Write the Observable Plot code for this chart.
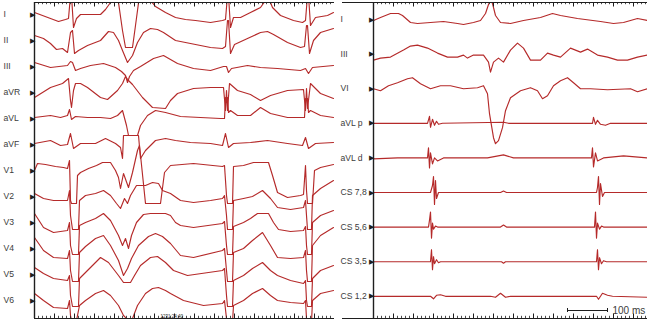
<!DOCTYPE html>
<html><head><meta charset="utf-8">
<script src="https://cdn.jsdelivr.net/npm/d3@7"></script>
<script src="https://cdn.jsdelivr.net/npm/@observablehq/plot@0.6"></script>
<style>
body{margin:0;background:#fff;}
#wrap{position:relative;width:650px;height:323px;overflow:hidden;background:#fff;}
#left{position:absolute;left:0;top:0;}
#right{position:absolute;left:334px;top:0;}
</style></head><body><div id="wrap"><div id="left"></div><div id="right"></div></div>
<script>
// ---------- left panel: surface ECG (time in ms, amplitude in mV) ----------
const leftLeads = ["I","II","III","aVR","aVL","aVF","V1","V2","V3","V4","V5","V6"];
const L_I = [[0,0.2],[80,-0.1],[160,-0.4],[240,-0.7],[310,-0.5],[340,-0.4],[360,1.9],[370,1.9],[390,-1.3],[420,-0.4],[460,0],[560,0],[660,0],[710,0.5],[760,1.2],[790,1.9],[830,1.9],[880,-1.6],[910,-3.3],[980,-3.3],[1010,-1.1],[1050,1.9],[1120,1.9],[1160,1.4],[1210,0.8],[1310,0.2],[1410,-0.3],[1510,-0.5],[1610,-0.6],[1760,-0.8],[1880,-0.6],[1910,-0.5],[1930,1.9],[1940,1.9],[1960,-1.3],[1990,-0.3],[2060,-0.3],[2160,0.2],[2260,0.7],[2310,1.4],[2340,1.7],[2380,0.7],[2460,-0.1],[2590,-0.6],[2680,-0.8],[2710,-0.6],[2730,1.9],[2740,1.9],[2760,-1.1],[2810,-0.3],[2930,-0.1],[2990,0.2]];
const L_II = [[0,0.5],[90,0.2],[160,-0.3],[220,-0.9],[280,-0.8],[330,-1.2],[360,0.8],[380,1.0],[400,-1.3],[440,-1.0],[530,-0.5],[660,0],[740,0.9],[790,0.8],[840,0],[880,-1.0],[930,-2.2],[980,-1.5],[1030,-0.2],[1090,0.8],[1160,1.2],[1230,1.1],[1290,0.8],[1410,0],[1560,-0.3],[1760,-0.7],[1880,-0.8],[1910,-0.6],[1930,2.0],[1940,2.0],[1960,-1.3],[2000,-0.4],[2130,0.2],[2260,0.8],[2330,0.9],[2390,0.6],[2530,-0.2],[2660,-0.7],[2700,-0.6],[2720,1.5],[2730,1.5],[2750,-1.3],[2790,0],[2860,0.8],[2990,1.2]];
const L_III = [[0,0.4],[160,-0.1],[330,0.1],[360,0.5],[380,0.4],[410,-0.4],[460,-0.2],[560,0.1],[690,0.3],[810,-0.1],[870,-0.5],[910,-0.9],[930,-1.6],[950,-1.0],[990,-0.4],[1060,0],[1190,0.8],[1290,1.1],[1430,0.3],[1590,-0.2],[1760,-0.4],[1890,0],[1920,0],[1940,-0.6],[1970,-0.2],[2130,0.1],[2260,-0.1],[2430,-0.2],[2660,-0.4],[2710,-0.2],[2740,-0.7],[2780,-0.1],[2990,0.1]];
const L_aVR = [[0,-0.5],[160,0.5],[280,0.9],[340,1.4],[360,-0.8],[370,-1.5],[390,0.2],[410,0.9],[460,0.9],[530,0.5],[660,-0.5],[730,-0.7],[830,0.2],[880,0.9],[910,1.6],[940,1.2],[980,0.8],[1080,-0.5],[1180,-1.5],[1310,-1.6],[1360,-0.8],[1430,-0.1],[1590,0.4],[1760,0.5],[1890,0.5],[1910,-1.8],[1920,0.2],[1930,-1.8],[1950,0.9],[2030,0.2],[2160,-0.2],[2260,-0.8],[2360,-0.3],[2530,0.2],[2690,0.3],[2710,-1.8],[2720,0.4],[2730,-1.6],[2760,0.9],[2860,-0.1],[2990,-0.6]];
const L_aVL = [[0,0.1],[160,0.3],[260,0.1],[330,0.3],[350,0.9],[370,-0.1],[410,0.2],[530,0.1],[660,0.1],[760,0],[830,0.3],[880,0.8],[920,-0.7],[940,-1.7],[1030,-1.7],[1060,-0.7],[1130,0.3],[1210,0.8],[1310,0.6],[1460,0.2],[1660,0.1],[1860,0],[1900,0],[1910,2.1],[1930,2.1],[1940,0.6],[1960,0.8],[2030,0.3],[2160,0.3],[2260,1.1],[2360,0.5],[2530,0.1],[2680,0.1],[2700,0.1],[2710,2.0],[2730,2.0],[2740,0.6],[2760,0.8],[2860,0.3],[2990,0.1]];
const L_aVF = [[0,0.1],[160,0.4],[260,-0.1],[330,0],[360,1.1],[390,-0.4],[460,0.1],[610,0.1],[710,0.6],[810,0.1],[860,-0.3],[880,-1.4],[890,0.9],[1040,0.9],[1060,-1.4],[1110,-0.6],[1210,0.4],[1310,0.6],[1410,0.4],[1560,0.2],[1760,0.1],[1880,-0.1],[1910,1.1],[1940,-0.3],[1990,0.1],[2160,0.2],[2330,0.4],[2530,0.1],[2680,-0.1],[2710,0.7],[2740,-0.4],[2810,0.1],[2990,0.2]];
const L_V1 = [[0,0],[30,0.7],[110,0.6],[210,0.4],[290,0.3],[330,0.2],[350,1.0],[360,-3.0],[370,-3.3],[420,-3.3],[430,-0.5],[460,-0.2],[540,0.2],[620,0.5],[680,0.8],[760,0.8],[810,0],[840,-0.7],[860,-1.8],[890,-0.3],[940,-1.7],[980,-0.2],[1030,2.0],[1050,2.5],[1110,-3.3],[1260,-3.3],[1300,-0.2],[1360,0.5],[1590,0.7],[1880,0.4],[1900,0.5],[1920,-2.5],[1930,-3.3],[1980,-3.3],[1990,0.4],[2090,0.5],[2190,0.8],[2340,0.8],[2380,-0.5],[2430,-2.2],[2530,-2.7],[2660,-2.5],[2690,-2.4],[2710,0.5],[2720,-2.0],[2730,-3.3],[2780,-3.3],[2800,0],[2860,0.3],[2990,0.6]];
const L_V2 = [[0,0.3],[90,-0.2],[190,-0.4],[330,-0.4],[350,0.6],[360,-1.9],[380,-3.3],[440,-3.3],[450,-0.4],[510,0.1],[610,0.3],[690,0.6],[760,0.1],[820,-0.7],[860,-1.2],[900,-0.2],[930,-0.7],[960,0.1],[1020,1.1],[1110,1.1],[1180,1.4],[1240,1.3],[1280,0.6],[1360,0.3],[1460,-0.4],[1590,-0.6],[1760,-0.4],[1880,-0.2],[1900,0.1],[1920,-1.9],[1930,-3.3],[1980,-3.3],[1990,-0.4],[2090,-0.2],[2180,0],[2280,0.6],[2360,-0.2],[2430,-1.1],[2560,-1.3],[2690,-1.1],[2710,-0.4],[2720,-1.9],[2730,-3.3],[2770,-3.3],[2780,0.1],[2860,0.8],[2990,1.6]];
const L_V3 = [[0,0.9],[90,-0.5],[190,-1.0],[330,-0.8],[350,0],[360,-2.3],[380,-3.2],[440,-3.2],[450,-0.3],[510,0],[610,0.4],[690,0.9],[760,0.2],[840,-1.3],[880,-2.3],[910,-1.6],[940,-2.6],[970,-1.3],[1020,0],[1090,0.8],[1160,0.9],[1310,0.9],[1360,0.7],[1410,0],[1460,-0.3],[1590,-0.5],[1880,-0.1],[1900,0.1],[1920,-2.3],[1930,-3.2],[1980,-3.2],[1990,-0.4],[2090,0],[2160,0.4],[2230,0.9],[2340,0.9],[2390,0],[2440,-0.7],[2560,-0.9],[2690,-0.8],[2710,-0.4],[2720,-2.3],[2730,-3.2],[2770,-3.2],[2780,0],[2860,0.7],[2990,1.2]];
const L_V4 = [[0,1.1],[90,-0.2],[190,-0.9],[330,-1.0],[350,-0.2],[360,-2.2],[380,-3.3],[440,-3.3],[450,-0.4],[510,0.2],[610,1.0],[690,1.3],[760,0.3],[840,-1.2],[890,-2.7],[930,-2.0],[970,-1.0],[1040,0.3],[1140,1.2],[1210,1.5],[1280,1.2],[1360,0.5],[1460,-0.7],[1590,-0.9],[1880,-0.2],[1900,0],[1920,-2.2],[1930,-3.3],[1980,-3.3],[1990,-0.4],[2090,0],[2180,0.8],[2280,1.6],[2360,0.3],[2430,-0.9],[2560,-1.0],[2690,-0.9],[2710,-0.2],[2720,-2.2],[2730,-3.3],[2770,-3.3],[2780,0.3],[2860,1.3],[2990,2.1]];
const L_V5 = [[0,0.7],[90,0.1],[190,-0.4],[330,-0.6],[350,-0.1],[360,-2.1],[380,-3.2],[440,-3.2],[450,-0.4],[510,0.2],[610,1.2],[660,1.7],[740,1.2],[840,-0.1],[890,-0.8],[960,-0.8],[1000,-0.1],[1060,0.9],[1160,1.7],[1230,1.8],[1310,1.2],[1390,0.4],[1530,-0.1],[1880,0.4],[1900,0.6],[1920,-2.1],[1930,-3.2],[1980,-3.2],[1990,-0.6],[2090,-0.1],[2180,0.6],[2280,1.2],[2360,0.4],[2430,-0.1],[2560,-0.6],[2690,-0.9],[2710,-0.6],[2720,-2.6],[2730,-3.2],[2770,-3.2],[2780,-0.4],[2860,0.4],[2990,0.9]];
const L_V6 = [[0,0.7],[90,0],[190,-0.7],[330,-0.8],[350,0],[360,-1.5],[370,-2.0],[420,-2.0],[450,-0.5],[510,0],[610,0.7],[690,1.0],[760,0.5],[840,-0.5],[890,-1.5],[940,-2.0],[980,-1.8],[1030,-0.5],[1110,0.7],[1180,1.2],[1240,1.3],[1310,1.0],[1360,0.7],[1490,0],[1690,-0.5],[1880,-0.3],[1900,0],[1920,-1.8],[1930,-2.2],[1980,-2.2],[1990,-0.5],[2090,0],[2180,0.7],[2280,1.2],[2360,0.5],[2430,0],[2560,-0.2],[2690,-0.3],[2710,0],[2720,-1.8],[2730,-2.2],[2770,-2.2],[2780,0],[2860,0.7],[2990,1.0]];
const leftStamp = ["1231:24:40"];

// ---------- right panel: surface + intracardiac (time in ms, amplitude in mV) ----------
const rightLeads = ["I","III","VI","aVL p","aVL d","CS 7,8","CS 5,6","CS 3,5","CS 1,2"];
const R_I = [[0,-0.1],[17.5,0.2],[42.5,0.6],[62.5,0.6],[72.5,0.4],[92.5,-0.3],[110,-0.4],[142.5,-0.3],[175,-0.2],[210,-0.4],[225,-0.5],[250,-0.3],[267.5,-0.1],[280,0.6],[287.5,1.5],[292.5,1.9],[297.5,1.6],[305,0.4],[317.5,-0.3],[342.5,-0.4],[375,-0.1],[417.5,0.2],[447.5,0.6],[467.5,0.4],[510,0.1],[567.5,-0.2],[600,-0.4],[625,-0.3],[660,0.1],[685,-0.1]];
const R_III = [[0,-0.6],[17.5,-0.4],[42.5,-0.3],[75,0.4],[92.5,0.8],[110,0.9],[135,0.6],[160,0.1],[185,-0.3],[210,-0.3],[225,-0.1],[235,-0.4],[250,-0.1],[275,-0.1],[287.5,-0.8],[292.5,-1.8],[300,-0.8],[312.5,-0.4],[325,-0.8],[342.5,0.4],[360,1.1],[375,0.6],[392.5,-0.6],[417.5,-0.6],[435,0.1],[450,-0.1],[467.5,-0.3],[492.5,0.6],[517.5,0.2],[535,0.5],[560,-0.1],[585,-0.3],[610,-0.6],[635,-0.6],[660,-0.3],[685,-0.1]];
const R_VI = [[0,0],[17.5,-0.2],[37.5,0.3],[60,0.6],[85,1.0],[97.5,1.1],[117.5,0.5],[142.5,0],[167.5,0.3],[192.5,0.3],[225,0],[260,0.1],[275,0.3],[285,-0.5],[290,-2.5],[295,-3.7],[300,-4.9],[305,-5.5],[312.5,-5.2],[322.5,-3.9],[330,-2.2],[342.5,-0.9],[367.5,-0.2],[392.5,0.1],[410,-0.2],[422.5,-1.0],[435,-0.7],[450,0.3],[467.5,0.8],[485,1.1],[500,0.6],[517.5,0],[542.5,0],[585,-0.1],[642.5,0],[660,-0.3],[685,0]];
const R_aVLp = [[0,0],[135,0],[140,0.7],[142.5,-0.4],[147.5,0.4],[152.5,-0.2],[157.5,0.2],[162.5,-0.1],[172.5,0],[325,0.1],[337.5,0],[547.5,0],[550,0.6],[555,-0.1],[560,0.3],[567.5,-0.1],[580,-0.2],[592.5,0],[685,0]];
const R_aVLd = [[0,-0.1],[60,0],[135,0],[137.5,1.0],[140,-1.0],[142.5,0.5],[147.5,-0.6],[152.5,0],[160,-0.3],[175,0],[285,0],[325,0.3],[350,0],[500,0],[545,0],[547.5,1.0],[550,-0.9],[555,0.5],[560,-0.3],[575,0],[625,0.2],[685,0]];
const R_CS78 = [[0,0],[142.5,0],[147.5,0.7],[150,1.6],[152.5,-1.2],[155,1.2],[157.5,-0.6],[162.5,0],[317.5,0],[325,0.15],[332.5,0],[557.5,0],[560,0.5],[562.5,1.6],[565,-1.2],[567.5,0.9],[572.5,-0.4],[577.5,0],[685,0]];
const R_CS56 = [[0,0],[137.5,0],[140,0.7],[142.5,1.5],[145,-1.1],[147.5,0.4],[150,-0.2],[155,0.1],[160,0],[317.5,0],[325,0.2],[332.5,0],[552.5,0],[555,1.5],[557.5,-1.1],[560,0.4],[565,-0.2],[570,0.1],[575,0],[685,0]];
const R_CS35 = [[0,0],[142.5,0],[145,1.2],[147.5,-0.8],[150,0.5],[152.5,-0.2],[157.5,0.2],[162.5,-0.1],[167.5,0],[320,0],[325,-0.15],[330,0],[557.5,0],[560,1.2],[562.5,-0.8],[565,0.4],[570,-0.2],[575,0.1],[582.5,0],[685,0]];
const R_CS12 = [[0,0],[142.5,0],[150,-0.25],[157.5,0.1],[167.5,0.15],[180,0],[292.5,0],[305,-0.1],[317.5,0.3],[330,-0.1],[342.5,0],[557.5,0],[562.5,-0.3],[572.5,0.3],[585,0.1],[597.5,0],[685,-0.1]];
const scaleBarMs = [485, 585];
const scaleBarLabel = ["100 ms"];

const RED = "#b52a2a", INK = "#1e1e1e", TXT = "#3c3c3c";
const FONT = "'Liberation Sans',Arial,sans-serif";

function panel(o) {
  const span = 31.6, top = o.top, bottom = top - span;
  const rows = o.traces.flatMap((tr, k) => tr.map(([t, v]) => ({t, y: v - o.spacing * k, lead: o.names[k]})));
  const minor = d3.range(0, o.xMax + 1e-6, o.minorStep);
  const major = d3.range(0, o.xMax + 1e-6, o.majorStep);
  const yOf = (d, i) => -o.spacing * i;
  return Plot.plot({
    width: o.width, height: 323, marginTop: 2, marginBottom: 5,
    marginLeft: o.marginLeft, marginRight: o.marginRight,
    x: {domain: [0, o.xMax], axis: null},
    y: {domain: [bottom, top], axis: null},
    style: {background: "white", overflow: "visible", fontFamily: FONT},
    marks: [
      Plot.line(rows, {x: "t", y: "y", z: "lead", stroke: RED, strokeWidth: 1.15, clip: true}),
      Plot.ruleX([0], {y1: bottom, y2: top, stroke: INK, strokeWidth: 1.4}),
      Plot.ruleY([top, bottom], {x1: o.lineStart, x2: o.xMax, stroke: INK, strokeWidth: 1}),
      Plot.ruleX(minor, {x: d => d, y1: top, y2: top - 0.22, stroke: INK, strokeWidth: 0.8}),
      Plot.ruleX(major, {x: d => d, y1: top, y2: top - 0.45, stroke: INK, strokeWidth: 1}),
      Plot.ruleX(minor, {x: d => d, y1: bottom, y2: bottom + 0.22, stroke: INK, strokeWidth: 0.8}),
      Plot.ruleX(major, {x: d => d, y1: bottom, y2: bottom + 0.45, stroke: INK, strokeWidth: 1}),
      Plot.text(o.names, {x: 0, y: yOf, text: d => d, textAnchor: "start", dx: o.labelDx, fontSize: 8.6, fill: TXT}),
      Plot.text(o.names, {x: 0, y: yOf, text: () => "\u25B6", textAnchor: "end", dx: 0.5, fontSize: 6.5, fill: INK}),
      ...(o.extra ? o.extra(top, bottom) : [])
    ]
  });
}

document.getElementById("left").append(panel({
  names: leftLeads,
  traces: [L_I, L_II, L_III, L_aVR, L_aVL, L_aVF, L_V1, L_V2, L_V3, L_V4, L_V5, L_V6],
  spacing: 2.6, top: 1.2, xMax: 3000, width: 334, marginLeft: 34, marginRight: 0,
  lineStart: 0, minorStep: 40, majorStep: 200, labelDx: -31,
  extra: (top, bottom) => [
    Plot.text(leftStamp, {x: 1260, y: bottom, dy: -2, text: d => d, textAnchor: "start", fontSize: 4.5, fill: INK})
  ]
}));

document.getElementById("right").append(panel({
  names: rightLeads,
  traces: [R_I, R_III, R_VI, R_aVLp, R_aVLd, R_CS78, R_CS56, R_CS35, R_CS12],
  spacing: 3.46, top: 1.7, xMax: 685, width: 316, marginLeft: 39, marginRight: 3,
  lineStart: -77.5, minorStep: 10, majorStep: 50, labelDx: -33,
  extra: (top, bottom) => {
    const barY = top - 30.8;
    return [
      Plot.ruleY([barY], {x1: scaleBarMs[0], x2: scaleBarMs[1], stroke: INK, strokeWidth: 1}),
      Plot.ruleX(scaleBarMs, {x: d => d, y1: barY - 0.2, y2: barY + 0.2, stroke: INK, strokeWidth: 1}),
      Plot.text(scaleBarLabel, {x: scaleBarMs[1], y: barY, dx: 5, text: d => d, textAnchor: "start", fontSize: 10, fill: TXT})
    ];
  }
}));
</script>
</body></html>
